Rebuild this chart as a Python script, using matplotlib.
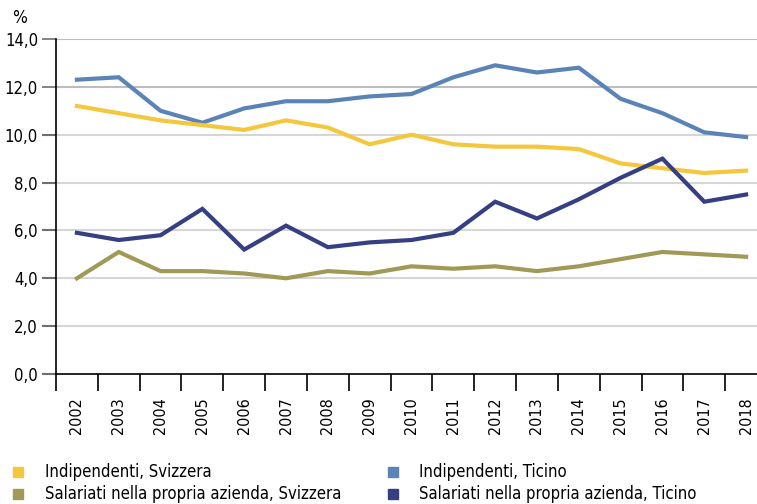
import matplotlib
matplotlib.use("Agg")
import matplotlib.pyplot as plt
from matplotlib.lines import Line2D
from matplotlib import font_manager as fm
import numpy as np

names = {f.name for f in fm.fontManager.ttflist}
if 'Liberation Sans Narrow' in names:
    plt.rcParams['font.family'] = ['Liberation Sans Narrow', 'DejaVu Sans']
else:
    plt.rcParams['font.family'] = ['DejaVu Sans']
    plt.rcParams['font.stretch'] = 'condensed'

years = [str(y) for y in range(2002, 2019)]
indip_svizzera = [11.2, 10.9, 10.6, 10.4, 10.2, 10.6, 10.3, 9.6, 10.0, 9.6, 9.5, 9.5, 9.4, 8.8, 8.6, 8.4, 8.5]
indip_ticino = [12.3, 12.4, 11.0, 10.5, 11.1, 11.4, 11.4, 11.6, 11.7, 12.4, 12.9, 12.6, 12.8, 11.5, 10.9, 10.1, 9.9]
sal_svizzera = [4.0, 5.1, 4.3, 4.3, 4.2, 4.0, 4.3, 4.2, 4.5, 4.4, 4.5, 4.3, 4.5, 4.8, 5.1, 5.0, 4.9]
sal_ticino = [5.9, 5.6, 5.8, 6.9, 5.2, 6.2, 5.3, 5.5, 5.6, 5.9, 7.2, 6.5, 7.3, 8.2, 9.0, 7.2, 7.5]

labels = ["Indipendenti, Svizzera", "Salariati nella propria azienda, Svizzera",
          "Indipendenti, Ticino", "Salariati nella propria azienda, Ticino"]
colors = ["#F4C73E", "#A09A56", "#5B84B6", "#353F82"]

W, H = 757, 504
fig = plt.figure(figsize=(W/100, H/100), dpi=100)
ax = fig.add_axes([56/W, 1-374/H, 711/W, 335/H])

x = np.arange(len(years))
for s, c in zip([indip_ticino, indip_svizzera, sal_ticino, sal_svizzera],
                [colors[2], colors[0], colors[3], colors[1]]):
    ax.plot(x, s, color=c, lw=3.0, solid_joinstyle='miter', zorder=3)

ax.set_xlim(-0.5, len(years)-0.5)
ax.set_ylim(0, 14)
yt = np.arange(0, 15, 2)
ax.set_yticks(yt)
ax.set_yticklabels([f"{v:.1f}".replace('.', ',') for v in yt], fontsize=12)
for v in yt[1:]:
    ax.axhline(v, color='#BDBDBD' if v >= 12 else '#D6D6D6', lw=1.5, zorder=1)
ax.tick_params(axis='y', length=10, width=1.5, color='#707070', pad=3)
for v, t in zip(yt, ax.yaxis.get_major_ticks()):
    if v >= 12:
        t.tick1line.set_color('black')
        t.tick1line.set_markeredgewidth(1.2)

ax.set_xticks(x)
ax.set_xticklabels(years, rotation=90, fontsize=11.5)
ax.set_xticks(np.arange(-0.5, len(years)), minor=True)
ax.tick_params(axis='x', which='major', length=0, pad=17)
ax.tick_params(axis='x', which='minor', length=12, width=1.2, color='black')

for sp in ['top', 'right']:
    ax.spines[sp].set_visible(False)
for sp in ['left', 'bottom']:
    ax.spines[sp].set_color('black')
    ax.spines[sp].set_linewidth(1.2)
    ax.spines[sp].set_zorder(4)

fig.text(12/W, 1-18/H, "%", fontsize=12.5, va='center', ha='left')

cols = [(18, 45), (18, 45), (393, 419), (393, 419)]
rows = [472, 494, 472, 494]
for (mx, tx), ry, lab, c in zip(cols, rows, labels, colors):
    fig.add_artist(Line2D([mx/W], [1-ry/H], transform=fig.transFigure, ls='none',
                          marker='s', markersize=7.5, color=c))
    fig.text(tx/W, 1-ry/H, lab, fontsize=12, va='center', ha='left')

fig.savefig("out.png", dpi=100)
